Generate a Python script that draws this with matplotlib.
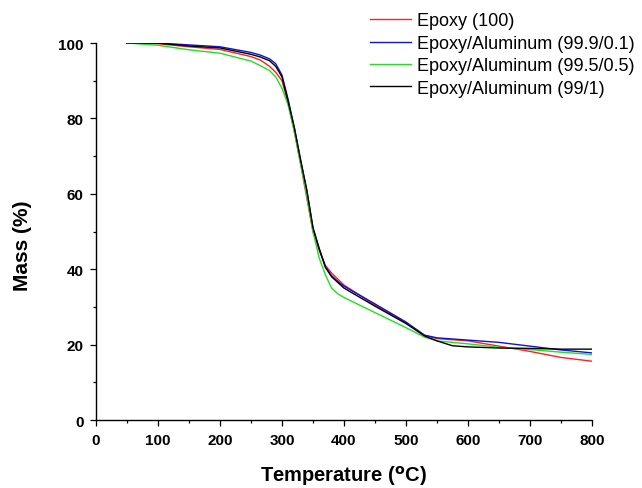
import matplotlib.pyplot as plt
from matplotlib.ticker import MultipleLocator

plt.rcParams['font.family'] = ['Liberation Sans', 'DejaVu Sans']

# temperatures (C) and mass (%)
temp = [50, 100, 150, 200, 250, 265, 280, 290, 300, 310, 320, 330, 340, 350, 360, 370,
        380, 390, 400, 450, 500, 530, 550, 575, 600, 650, 700, 750, 800]
epoxy = [100, 99.8, 99.0, 98.3, 96.4, 95.5, 93.8, 92.2, 90.0, 84.0, 76.5, 68.0, 59.0, 50.0,
         45.0, 41.0, 39.0, 37.4, 35.8, 30.5, 25.8, 22.5, 21.6, 21.3, 21.0, 19.6, 18.2, 16.6, 15.6]
al_01 = [100, 100, 99.5, 99.0, 97.5, 96.8, 95.8, 94.5, 91.5, 85.0, 77.5, 69.0, 61.0, 51.0,
         45.5, 40.7, 38.3, 36.8, 35.5, 30.8, 26.0, 22.5, 21.8, 21.5, 21.2, 20.6, 19.6, 18.6, 17.8]
al_05 = [100, 99.4, 98.2, 97.3, 95.2, 94.0, 92.7, 91.0, 88.0, 83.5, 76.5, 68.0, 59.5, 50.0,
         43.0, 38.5, 35.0, 33.5, 32.5, 28.5, 24.5, 22.0, 21.0, 20.6, 20.2, 19.3, 18.7, 18.0, 17.4]
al_1 = [100, 100, 99.2, 98.7, 97.0, 96.3, 95.3, 93.8, 91.0, 84.5, 77.5, 69.0, 61.0, 51.0,
        45.5, 40.5, 38.0, 36.5, 35.0, 30.2, 25.6, 22.3, 21.0, 19.7, 19.4, 19.1, 19.0, 18.8, 18.8]

labels = ['Epoxy (100)', 'Epoxy/Aluminum (99.9/0.1)',
          'Epoxy/Aluminum (99.5/0.5)', 'Epoxy/Aluminum (99/1)']
colors = ['#ff2020', '#1010e0', '#20e020', '#000000']

fig = plt.figure(figsize=(6.42, 4.89), dpi=100)
ax = fig.add_axes([0.1495, 0.139, 0.7725, 0.771])

for ys, lab, c in zip([epoxy, al_01, al_05, al_1], labels, colors):
    ax.plot(temp, ys, color=c, lw=1.0, label=lab)

ax.set_xlim(0, 800)
ax.set_ylim(0, 100)
ax.xaxis.set_major_locator(MultipleLocator(100))
ax.xaxis.set_minor_locator(MultipleLocator(50))
ax.yaxis.set_major_locator(MultipleLocator(20))
ax.yaxis.set_minor_locator(MultipleLocator(10))
ax.spines['top'].set_visible(False)
ax.spines['right'].set_visible(False)
for s in ['left', 'bottom']:
    ax.spines[s].set_linewidth(1.0)
ax.tick_params(which='major', direction='out', length=4, width=0.9, labelsize=11, pad=5)
ax.tick_params(which='minor', direction='out', length=2.3, width=0.9)
for t in ax.get_xticklabels() + ax.get_yticklabels():
    t.set_fontweight('bold')

ax.set_xlabel(r'Temperature ($^{\mathbf{o}}$C)', fontsize=14.5, fontweight='bold')
ax.set_ylabel('Mass (%)', fontsize=15, fontweight='bold')
ax.xaxis.set_label_coords(0.5, -0.113)
ax.yaxis.set_label_coords(-0.13, 0.464)

fig.legend(loc='upper left', bbox_to_anchor=(370 / 642, 1 - 13.5 / 489),
           frameon=False, fontsize=13, handlelength=2.27, handletextpad=0.33,
           labelspacing=0.3, borderpad=0, borderaxespad=0)

fig.savefig('out.png', dpi=100)
